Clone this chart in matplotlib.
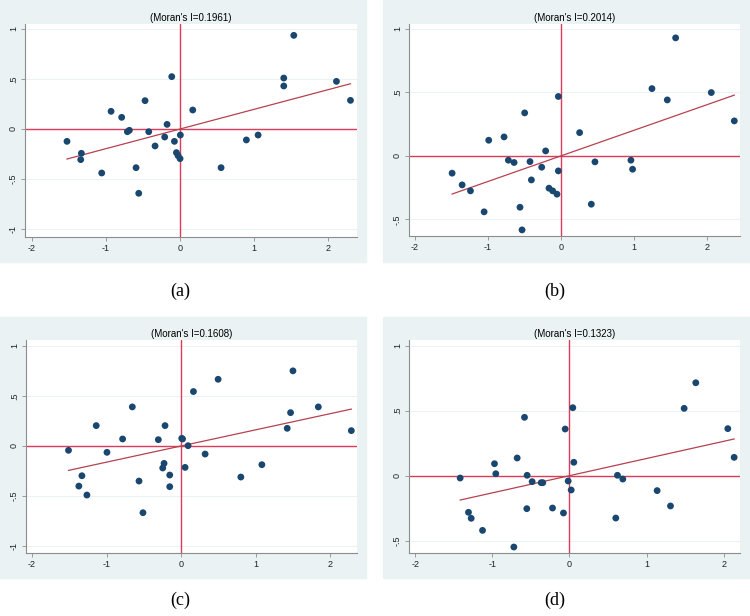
import numpy as np
import matplotlib
matplotlib.use('Agg')
import matplotlib.pyplot as plt
from matplotlib.patches import Rectangle

# Dados (z padronizado, Wz)
titulos = ["(Moran's I=0.1961)", "(Moran's I=0.2014)",
           "(Moran's I=0.1608)", "(Moran's I=0.1323)"]
moran = [0.1961, 0.2014, 0.1608, 0.1323]
legendas = ['(a)', '(b)', '(c)', '(d)']

xa = [-1.524, -1.330, -1.339, -1.056, -0.930, -0.787, -0.710, -0.683, -0.593, -0.557,
      -0.472, -0.422, -0.337, -0.207, -0.175, -0.112, -0.076, -0.049, -0.027, 0.000,
      0.004, 0.171, 0.553, 0.894, 1.052, 1.398, 1.398, 1.533, 2.108, 2.297]
ya = [-0.123, -0.242, -0.305, -0.438, 0.176, 0.116, -0.027, -0.013, -0.385, -0.640,
      0.282, -0.027, -0.169, -0.080, 0.046, 0.521, -0.123, -0.235, -0.265, -0.295,
      -0.060, 0.189, -0.385, -0.109, -0.060, 0.507, 0.428, 0.932, 0.474, 0.285]

xb = [-1.490, -1.353, -1.239, -1.052, -0.989, -0.779, -0.720, -0.642, -0.561, -0.533,
      -0.497, -0.424, -0.405, -0.264, -0.210, -0.164, -0.114, -0.055, -0.036, -0.036,
      0.255, 0.415, 0.465, 0.957, 0.980, 1.245, 1.455, 1.569, 2.057, 2.372]
yb = [-0.136, -0.228, -0.275, -0.440, 0.123, 0.149, -0.034, -0.052, -0.404, -0.582,
      0.338, -0.045, -0.189, -0.089, 0.039, -0.254, -0.275, -0.301, -0.118, 0.467,
      0.183, -0.380, -0.047, -0.034, -0.105, 0.529, 0.440, 0.928, 0.498, 0.275]

xc = [-1.510, -1.371, -1.330, -1.263, -1.138, -0.994, -0.784, -0.654, -0.564, -0.511,
      -0.305, -0.246, -0.228, -0.215, -0.152, -0.152, 0.009, 0.020, 0.054, 0.094,
      0.166, 0.323, 0.497, 0.802, 1.084, 1.424, 1.469, 1.501, 1.841, 2.284]
yc = [-0.043, -0.399, -0.296, -0.488, 0.203, -0.063, 0.070, 0.389, -0.349, -0.664,
      0.063, -0.219, -0.173, 0.203, -0.289, -0.405, 0.076, 0.070, -0.213, 0.003,
      0.542, -0.080, 0.664, -0.309, -0.186, 0.176, 0.332, 0.748, 0.389, 0.153]

xd = [-1.417, -1.309, -1.274, -1.127, -0.972, -0.955, -0.721, -0.678, -0.583, -0.553,
      -0.549, -0.484, -0.367, -0.346, -0.220, -0.078, -0.056, -0.017, 0.022, 0.043,
      0.056, 0.600, 0.622, 0.691, 1.136, 1.309, 1.486, 1.637, 2.052, 2.134]
yd = [-0.018, -0.282, -0.328, -0.421, 0.092, 0.015, -0.549, 0.136, 0.449, -0.254,
      0.003, -0.046, -0.054, -0.054, -0.249, -0.287, 0.359, -0.041, -0.110, 0.523,
      0.103, -0.326, 0.003, -0.026, -0.115, -0.233, 0.518, 0.715, 0.362, 0.141]

xs = [xa, xb, xc, xd]
ys = [ya, yb, yc, yd]

# Limites de cada painel e ticks do eixo y
xlims = [(-2.09, 2.385), (-2.08, 2.45), (-2.08, 2.36), (-2.08, 2.21)]
ylims = [(-1.075, 1.045), (-0.63, 1.037), (-1.065, 1.055), (-0.595, 1.044)]
yticks = [[-1, -0.5, 0, 0.5, 1], [-0.5, 0, 0.5, 1],
          [-1, -0.5, 0, 0.5, 1], [-0.5, 0, 0.5, 1]]
ytick_labels = {-1: '-1', -0.5: '-.5', 0: '0', 0.5: '.5', 1: '1'}
xticks = [-2, -1, 0, 1, 2]

W, H = 750, 616
fig = plt.figure(figsize=(W / 100, H / 100), dpi=100)

# Posições em pixels: fundo (x0, y0, x1, y1) e área do gráfico
fundos = [(0, 0, 366, 262), (383, 0, 750, 262), (0, 317, 366, 578), (383, 317, 750, 578)]
areas = [(25, 24, 357, 237), (409, 24, 740, 236), (26, 340, 357, 553), (409, 340, 740, 553)]
cap_pos = [(180, 291), (555, 291), (180, 600), (555, 600)]

bg = '#EAF2F3'
azul = '#1A476F'
vermelho = '#DC3C5A'
linha_fit = '#B5424E'
cinza = '#8C8C8C'

for i in range(4):
    x0, y0, x1, y1 = fundos[i]
    fig.patches.append(Rectangle((x0 / W, 1 - y1 / H), (x1 - x0) / W, (y1 - y0) / H,
                                 transform=fig.transFigure, color=bg, zorder=-10))
    a0, b0, a1, b1 = areas[i]
    ax = fig.add_axes([a0 / W, 1 - b1 / H, (a1 - a0) / W, (b1 - b0) / H], zorder=5)
    ax.set_facecolor('white')

    x = np.array(xs[i])
    y = np.array(ys[i])

    # Linhas de grade horizontais
    for t in yticks[i]:
        ax.axhline(t, color=bg, lw=0.8, zorder=1)

    ax.axvline(0, color=vermelho, lw=1.0, zorder=2)
    ax.axhline(0, color=vermelho, lw=1.0, zorder=2)

    # Reta ajustada: inclinação = I de Moran
    xf = np.array([x.min(), x.max()])
    ax.plot(xf, moran[i] * xf, color=linha_fit, lw=0.9, zorder=3)

    ax.scatter(x, y, s=24, color=azul, edgecolors='none', zorder=4)

    ax.set_xlim(xlims[i])
    ax.set_ylim(ylims[i])
    ax.set_xticks(xticks)
    ax.set_xticklabels([str(t) for t in xticks], fontsize=6.5, family='Liberation Sans')
    ax.set_yticks(yticks[i])
    ax.set_yticklabels([ytick_labels[t] for t in yticks[i]], fontsize=6.5,
                       family='Liberation Sans', rotation=90, va='center')
    ax.tick_params(length=3, width=0.6, color=cinza, pad=2, labelcolor='#222222')

    for lado in ['top', 'right']:
        ax.spines[lado].set_visible(False)
    for lado in ['left', 'bottom']:
        ax.spines[lado].set_color(cinza)
        ax.spines[lado].set_linewidth(0.8)

    ax.set_title(titulos[i], fontsize=7, family='Liberation Sans', pad=2)

    cx, cy = cap_pos[i]
    fig.text(cx / W, 1 - cy / H, legendas[i], ha='center', va='center',
             fontsize=13, family='Liberation Serif')

fig.savefig('out.png', dpi=100, facecolor='white')
